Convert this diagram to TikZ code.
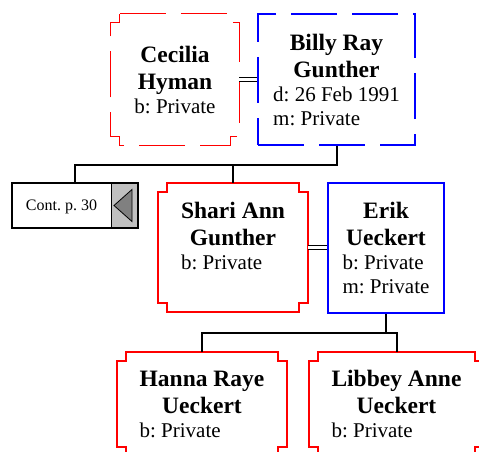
\documentclass[tikz,border=0pt]{standalone}
\usepackage{fontspec}
\setmainfont{Liberation Serif}
\frenchspacing
\definecolor{female}{RGB}{255,0,0}
\definecolor{male}{RGB}{0,0,255}
\definecolor{contgray}{RGB}{192,192,192}
\definecolor{tabgray}{RGB}{128,128,128}
\newcommand{\namefont}{\fontsize{23.5}{27}\selectfont\bfseries}
\newcommand{\nm}[1]{\multicolumn{1}{@{}c@{}}{\namefont #1}}
% frame with cut-in corners round a node
\newcommand{\notched}[2]{%
  \draw[#2] ([xshift=9pt]#1.north west) -- ([xshift=-9pt]#1.north east)
    -- ++(0,-9pt) -- ++(9pt,0) -- ([yshift=9pt]#1.south east)
    -- ++(-9pt,0) -- ++(0,-9pt) -- ([xshift=9pt]#1.south west)
    -- ++(0,9pt) -- ++(-9pt,0) -- ([yshift=-9pt]#1.north west)
    -- ++(9pt,0) -- cycle;}

\begin{document}
\begin{tikzpicture}[x=1pt, y=-1pt,
    person/.style={inner sep=0pt, text depth=0pt,
                   font=\fontsize{21}{24}\selectfont},
    conn/.style={line width=2pt, black},
    spouse/.style={double, double distance=2.5pt, line width=1.2pt},
    solidline/.style={line width=2pt},
    dashline/.style={line width=1.3pt, dash pattern=on 46pt off 15pt},
    contbox/.style={draw, line width=2pt, inner sep=0pt, text depth=0pt,
                    font=\fontsize{16}{19}\selectfont,
                    path picture={
                      \filldraw[fill=contgray, line width=0.8pt]
                        ([xshift=-27pt]path picture bounding box.north east)
                        rectangle (path picture bounding box.south east);
                      \filldraw[fill=tabgray, line width=0.8pt]
                        ([xshift=-24pt]path picture bounding box.east)
                        -- ([xshift=-6pt, yshift=16pt]path picture bounding box.east)
                        -- ([xshift=-6pt, yshift=-16pt]path picture bounding box.east)
                        -- cycle;}}
]
\useasboundingbox (0,0) rectangle (479,452);

% parents
\node[person, minimum width=128pt, minimum height=131pt] (cecilia) at (175,79.5)
    {\begin{tabular}[b]{@{}l@{}}\nm{Cecilia}\\[3pt]\nm{Hyman}\\b: Private\end{tabular}};
\node[person, draw=male, dashline, minimum width=157pt, minimum height=131pt]
    (billy) at (336.5,79.5)
    {\begin{tabular}[b]{@{}l@{}}\nm{Billy Ray}\\[3pt]\nm{Gunther}\\d: 26 Feb 1991\\m: Private\end{tabular}};
\notched{cecilia}{female, dashline}

% couple
\node[person, text depth=24pt, minimum width=150pt, minimum height=129pt]
    (shari) at (233,247.5)
    {\begin{tabular}[b]{@{}l@{}}\nm{Shari Ann}\\[3pt]\nm{Gunther}\\b: Private\end{tabular}};
\node[person, draw=male, solidline, minimum width=116pt, minimum height=130pt]
    (erik) at (386,248)
    {\begin{tabular}[b]{@{}l@{}}\nm{Erik}\\[3pt]\nm{Ueckert}\\b: Private\\m: Private\end{tabular}};
\notched{shari}{female, solidline}

\node[contbox, minimum width=126pt, minimum height=45pt] (cont) at (75,205.5)
    {\makebox[126pt][l]{\makebox[99pt]{Cont. p. 30}}};

% children
\node[person, minimum width=170pt, minimum height=104pt] (hanna) at (202,404)
    {\begin{tabular}[b]{@{}l@{}}\nm{Hanna Raye}\\[3pt]\nm{Ueckert}\\b: Private\end{tabular}};
\node[person, minimum width=175pt, minimum height=104pt] (libbey) at (396.5,404)
    {\begin{tabular}[b]{@{}l@{}}\nm{Libbey Anne}\\[3pt]\nm{Ueckert}\\b: Private\end{tabular}};
\notched{hanna}{female, solidline}
\notched{libbey}{female, solidline}

% links
\draw[spouse] (cecilia.east) -- (billy.west);
\draw[spouse] (shari.east) -- (shari.east -| erik.west);
\draw[conn] (billy.south) -- ++(0,19) coordinate (sibbar) -| (cont.north);
\draw[conn] (shari.north) -- (shari.north |- sibbar);
\draw[conn] (erik.south) -- ++(0,19) coordinate (kidbar);
\draw[conn] (hanna.north) |- (kidbar) -| (libbey.north);

\end{tikzpicture}
\end{document}
